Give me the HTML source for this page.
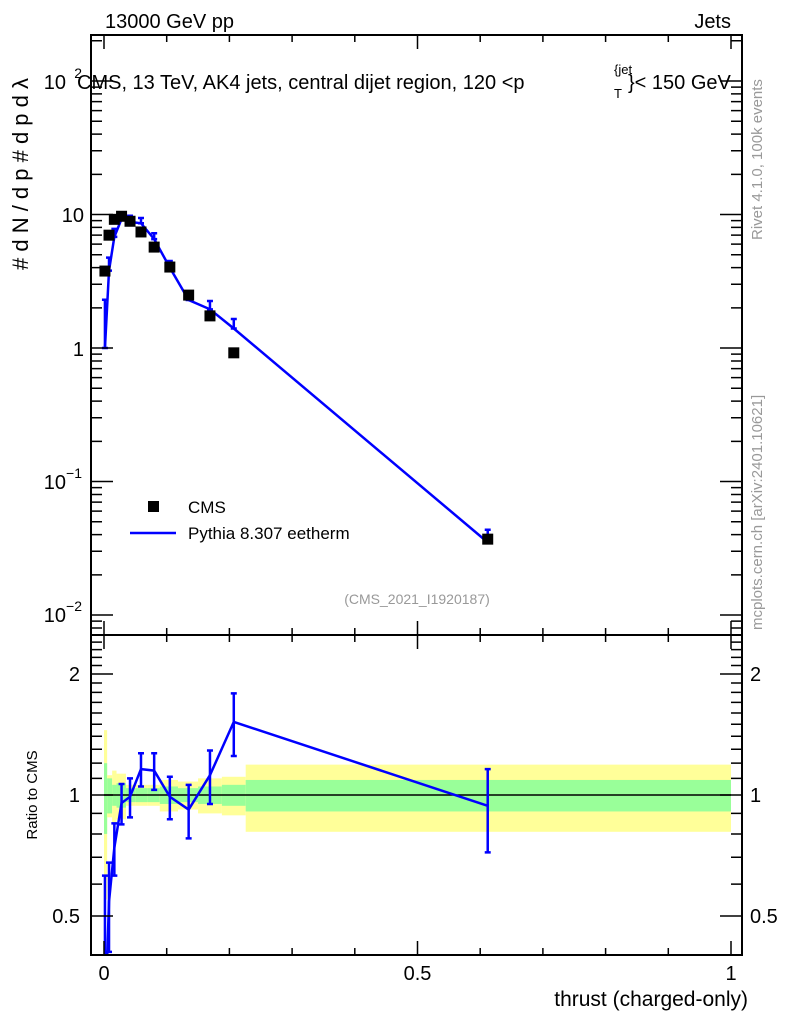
<!DOCTYPE html>
<html><head><meta charset="utf-8"><style>
html,body{margin:0;background:#fff;overflow:hidden;width:786px;height:1024px;}
svg{font-family:"Liberation Sans",sans-serif;display:block;overflow:hidden;}
</style></head><body>
<svg id="c" width="786" height="1024" xmlns="http://www.w3.org/2000/svg"></svg>
<script>
const binEdges=[0,0.005,0.013,0.02,0.035,0.05,0.07,0.089,0.118,0.15,0.188,0.226,1.0];
const xPts=[0.0015,0.008,0.0165,0.028,0.0415,0.059,0.08,0.105,0.135,0.169,0.207,0.612];
const cmsVals=[3.77,7.0,9.2,9.7,8.9,7.4,5.7,4.04,2.49,1.74,0.92,0.037];
const mcVals=[1.0,3.8,6.8,9.26,8.8,8.6,6.55,4.0,2.29,1.95,1.40,0.035];
const mcErr=[1.3,0.95,1.0,1.07,0.98,0.82,0.68,0.48,0.35,0.30,0.25,0.0085];
const ratioVals=[0.27,0.543,0.74,0.955,0.99,1.16,1.15,0.99,0.92,1.12,1.52,0.94];
const ratioErr=[0.36,0.136,0.11,0.11,0.11,0.11,0.12,0.12,0.14,0.17,0.27,0.22];
const greenBand=[0.20,0.10,0.06,0.07,0.04,0.04,0.04,0.05,0.04,0.05,0.06,0.09];
const yellowBand=[0.45,0.12,0.15,0.13,0.06,0.06,0.06,0.09,0.08,0.10,0.11,0.19];
const xTicks=[0,0.5,1];
const xTickLabels=["0","0.5","1"];

const svg=document.getElementById('c');
const NS="http://www.w3.org/2000/svg";
const L=91,R=742,T=35,M=635,B=955;
const X=v=>104+v*627;
const Y=v=>348-Math.log10(v)*133.5;
const YR=v=>795-Math.log2(v)*121;
function mk(tag,attrs,name,parent){const e=document.createElementNS(NS,tag);for(const k in attrs)e.setAttribute(k,attrs[k]);


(parent||svg).appendChild(e);return e;}
function txt(x,y,s,name,opt){const t=mk('text',Object.assign({x:x,y:y,'font-size':20,fill:'#000'},opt||{}),name);t.textContent=s;return t;}
const clipD=mk('defs',{},'defs');
const cp1=mk('clipPath',{id:'cm'},'clip-main',clipD);mk('rect',{x:L,y:T,width:R-L,height:M-T},'clip-rect',cp1);
const cp2=mk('clipPath',{id:'cr'},'clip-ratio',clipD);mk('rect',{x:L,y:M,width:R-L,height:B-M},'clip-rect',cp2);

const gR=mk('g',{'clip-path':'url(#cr)'},'ratio-plot');
for(let i=0;i<binEdges.length-1;i++){
  const x0=X(binEdges[i]),x1=X(binEdges[i+1]);
  mk('rect',{x:x0,y:YR(1+yellowBand[i]),width:x1-x0,height:YR(1-yellowBand[i])-YR(1+yellowBand[i]),fill:'#ffff99'},'total-uncertainty-band',gR);
  mk('rect',{x:x0,y:YR(1+greenBand[i]),width:x1-x0,height:YR(1-greenBand[i])-YR(1+greenBand[i]),fill:'#99ff99'},'stat-uncertainty-band',gR);
}
mk('line',{x1:X(0),x2:X(1),y1:YR(1),y2:YR(1),stroke:'#000','stroke-width':1.5},'ratio-reference-line',gR);
let rp=xPts.map((x,i)=>X(x)+','+YR(ratioVals[i])).join(' ');
mk('polyline',{points:rp,fill:'none',stroke:'#0000ff','stroke-width':2.5},'ratio-line',gR);
xPts.forEach((x,i)=>{const px=X(x),y1=YR(ratioVals[i]+ratioErr[i]),y2=YR(Math.max(ratioVals[i]-ratioErr[i],0.01));
mk('path',{d:`M${px},${y1}V${y2}M${px-3},${y1}h6M${px-3},${y2}h6`,stroke:'#0000ff','stroke-width':2.5,fill:'none'},'ratio-error-bar',gR);});

const gM=mk('g',{'clip-path':'url(#cm)'},'main-plot');
let mp=xPts.map((x,i)=>X(x)+','+Y(mcVals[i])).join(' ');
mk('polyline',{points:mp,fill:'none',stroke:'#0000ff','stroke-width':2.5},'pythia-line',gM);
xPts.forEach((x,i)=>{const px=X(x),y1=Y(mcVals[i]+mcErr[i]),y2=Y(Math.max(mcVals[i]-mcErr[i],mcVals[i]*0.999));
mk('path',{d:`M${px},${y1}V${y2}M${px-3},${y1}h6M${px-3},${y2}h6`,stroke:'#0000ff','stroke-width':2.5,fill:'none'},'pythia-error-bar',gM);});
xPts.forEach((x,i)=>{mk('rect',{x:X(x)-5.5,y:Y(cmsVals[i])-5.5,width:11,height:11,fill:'#000'},'cms-point',gM);});

mk('rect',{x:L,y:T,width:R-L,height:M-T,fill:'none',stroke:'#000','stroke-width':2},'main-frame');
mk('rect',{x:L,y:M,width:R-L,height:B-M,fill:'none',stroke:'#000','stroke-width':2},'ratio-frame');

let tk='';
for(let v=0;v<=1.0001;v+=0.1){const px=X(v),big=Math.abs(v*2-Math.round(v*2))<1e-6,h=big?14:7;
 tk+=`M${px},${M}v${-h}M${px},${T}v${h}M${px},${B}v${-h}M${px},${M}v${h}`;}
mk('path',{d:tk,stroke:'#000','stroke-width':1.5},'x-ticks');
xTicks.forEach((v,i)=>txt(X(v),980,xTickLabels[i],'x-tick-label',{'text-anchor':'middle'}));
let yt='';
for(let d=-3;d<=2;d++)for(let m=1;m<10;m++){const v=m*Math.pow(10,d),py=Y(v);if(py<T||py>M)continue;const h=m==1?22:11;
 yt+=`M${L},${py}h${h}M${R},${py}h${-h}`;}
mk('path',{d:yt,stroke:'#000','stroke-width':1.5},'y-ticks');
txt(84,222,'10','y-tick-label',{'text-anchor':'end'});
txt(84,356,'1','y-tick-label',{'text-anchor':'end'});
txt(66,489,'10','y-tick-label',{'text-anchor':'end'});
txt(82,478,'−1','y-tick-exp',{'text-anchor':'end','font-size':14});
txt(66,622,'10','y-tick-label',{'text-anchor':'end'});
txt(82,611,'−2','y-tick-exp',{'text-anchor':'end','font-size':14});
txt(66,89,'10','y-tick-label',{'text-anchor':'end'});
txt(82,78,'2','y-tick-exp',{'text-anchor':'end','font-size':14});
let rt='';
[0.4,0.5,0.6,0.7,0.8,0.9,1,2].forEach(v=>{const py=YR(v),h=(v==0.5||v==1||v==2)?22:11;rt+=`M${L},${py}h${h}M${R},${py}h${-h}`;});
[1.1,1.2,1.3,1.4,1.5,1.6,1.7,1.8,1.9,2.1,2.2,2.3,2.4].forEach(v=>{const py=YR(v);rt+=`M${L},${py}h11M${R},${py}h-11`;});
mk('path',{d:rt,stroke:'#000','stroke-width':1.5},'ratio-y-ticks');
[[2,'2'],[1,'1'],[0.5,'0.5']].forEach(a=>{txt(80,YR(a[0])+7,a[1],'ratio-tick-label',{'text-anchor':'end'});txt(750,YR(a[0])+7,a[1],'ratio-tick-label-right');});

txt(105,28,'13000 GeV pp','energy-label');
txt(731,28,'Jets','process-label',{'text-anchor':'end'});
txt(77,89,'CMS, 13 TeV, AK4 jets, central dijet region, 120 <p',"plot-title");
txt(628,89,'}< 150 GeV','plot-title-end');
txt(614,74,'{jet','title-sup',{'font-size':13});
txt(614,98,'T','title-sub',{'font-size':13});
txt(748,1006,'thrust (charged-only)','x-axis-title',{'text-anchor':'end','font-size':21});
txt(417,604,'(CMS_2021_I1920187)','analysis-id',{'text-anchor':'middle','font-size':14,fill:'#999'});
txt(0,0,'Ratio to CMS','ratio-y-title',{'font-size':15,transform:'translate(37,795) rotate(-90)','text-anchor':'middle'});
txt(0,0,'#  d N / d p   #   d p   d λ','y-axis-title',{'font-size':22,transform:'translate(28,270) rotate(-90)','text-anchor':'start'});
txt(0,0,'Rivet 4.1.0,  100k events','rivet-label',{'font-size':15,fill:'#999',transform:'translate(762,240) rotate(-90)'});
txt(0,0,'mcplots.cern.ch [arXiv:2401.10621]','mcplots-label',{'font-size':15,fill:'#999',transform:'translate(762,630) rotate(-90)'});
mk('rect',{x:148,y:501,width:11,height:11,fill:'#000'},'legend-cms-marker');
txt(188,513,'CMS','legend-cms-label',{'font-size':17});
mk('line',{x1:130,x2:176,y1:533,y2:533,stroke:'#0000ff','stroke-width':2.5},'legend-pythia-line');
txt(188,539,'Pythia 8.307 eetherm','legend-pythia-label',{'font-size':17});
</script>
</body></html>
